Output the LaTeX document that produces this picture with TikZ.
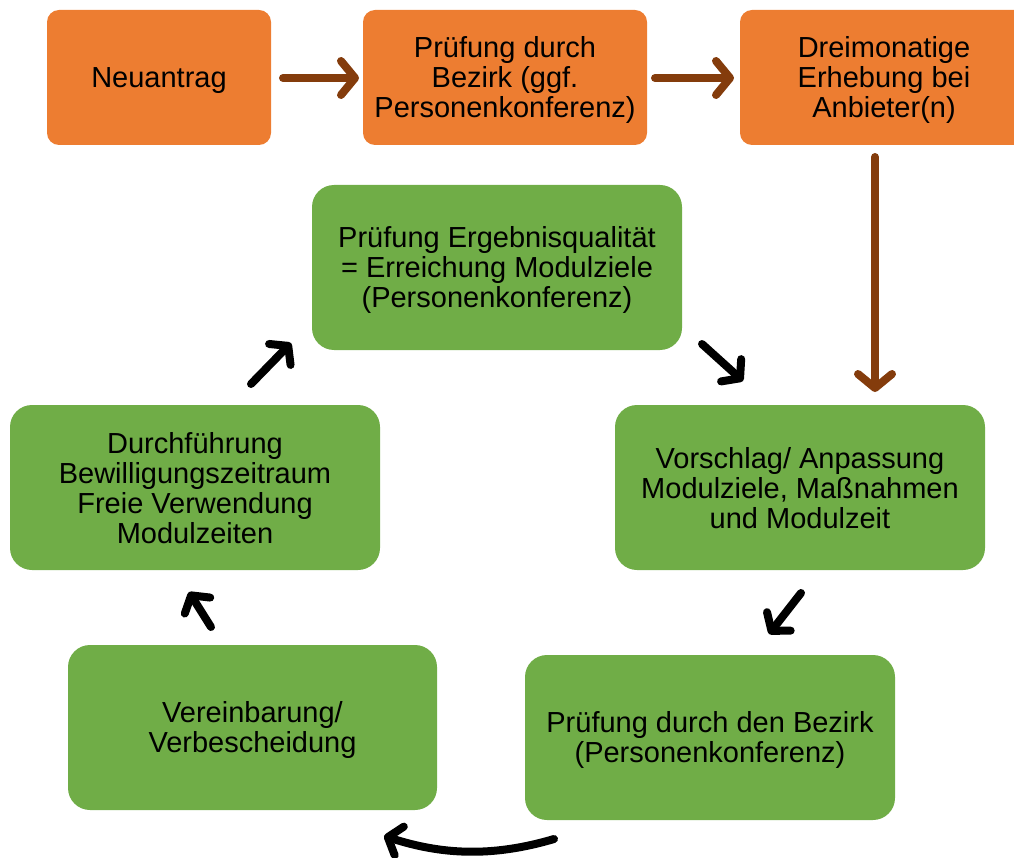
\documentclass[tikz,border=0pt]{standalone}
\usepackage{fontspec}
\setmainfont{Liberation Sans}
\usetikzlibrary{arrows.meta}
\definecolor{boxorange}{HTML}{ED7D31}
\definecolor{boxgreen}{HTML}{70AD47}
\definecolor{arrbrown}{HTML}{843C0C}
\newcommand\tstrut{\rule{0pt}{26pt}}
\newcommand\bstrut{\rule[-5pt]{0pt}{0pt}}
\tikzset{
  obox/.style={rectangle, fill=boxorange, rounded corners=12pt, inner sep=0pt, align=center,
    font=\fontsize{29}{30}\selectfont, minimum height=135pt},
  gbox/.style={rectangle, fill=boxgreen, rounded corners=22pt, inner sep=0pt, align=center,
    font=\fontsize{29}{30}\selectfont, minimum width=370pt, minimum height=165pt},
  barrow/.style={draw=arrbrown, line width=8pt, line cap=round,
    -{Straight Barb[length=14pt,width=34pt,round]}},
  karrow/.style={draw=black, line width=8pt, line cap=round,
    -{Straight Barb[length=12pt,width=30pt,round]}}
}
\begin{document}
\begin{tikzpicture}[x=1pt,y=-1pt]
\useasboundingbox (0,0) rectangle (1014,858);
\begin{scope}
\clip (0,0) rectangle (1014,858);
\node[obox, minimum width=224pt] (n1) at (159,77.5) {\tstrut Neuantrag\bstrut};
\node[obox, minimum width=284pt] (n2) at (505,77.5) {\tstrut Prüfung durch\\Bezirk (ggf.\\Personenkonferenz)\bstrut};
\node[obox, minimum width=288pt] (n3) at (884,77.5) {\tstrut Dreimonatige\\Erhebung bei\\Anbieter(n)\bstrut};
\end{scope}
\node[gbox] (g1) at (497,267.5) {\tstrut Prüfung Ergebnisqualität\\= Erreichung Modulziele\\(Personenkonferenz)\bstrut};
\node[gbox] (g2) at (800,487.5) {\tstrut Vorschlag/ Anpassung\\Modulziele, Maßnahmen\\und Modulzeit\bstrut};
\node[gbox] (g3) at (710,737.5) {\tstrut Prüfung durch den Bezirk\\(Personenkonferenz)\bstrut};
\node[gbox, minimum width=369pt] (g4) at (252.5,727.5) {\tstrut Vereinbarung/\\Verbescheidung\bstrut};
\node[gbox] (g5) at (195,487.5) {\tstrut Durchführung\\Bewilligungszeitraum\\Freie Verwendung\\Modulzeiten\bstrut};
% arrow end points
\coordinate (b1s) at (283,78); \coordinate (b1e) at (359,78);
\coordinate (b2s) at (655,78); \coordinate (b2e) at (734,78);
\coordinate (b3s) at (875,157); \coordinate (b3e) at (875,392);
\coordinate (k1s) at (702,344); \coordinate (k1e) at (743,381);
\coordinate (k2s) at (801,593); \coordinate (k2e) at (769,634);
\coordinate (k3s) at (554,839); \coordinate (k3e) at (384,836);
\coordinate (k4s) at (211,627); \coordinate (k4e) at (189,592);
\coordinate (k5s) at (251,384); \coordinate (k5e) at (291,343);
\draw[barrow] (b1s) -- (b1e);
\draw[barrow] (b2s) -- (b2e);
\draw[barrow] (b3s) -- (b3e);
\draw[karrow] (k1s) -- (k1e);
\draw[karrow] (k2s) -- (k2e);
\draw[karrow] (k3s) .. controls (490,858) and (440,854) .. (k3e);
\draw[karrow] (k4s) -- (k4e);
\draw[karrow] (k5s) -- (k5e);
\end{tikzpicture}
\end{document}
